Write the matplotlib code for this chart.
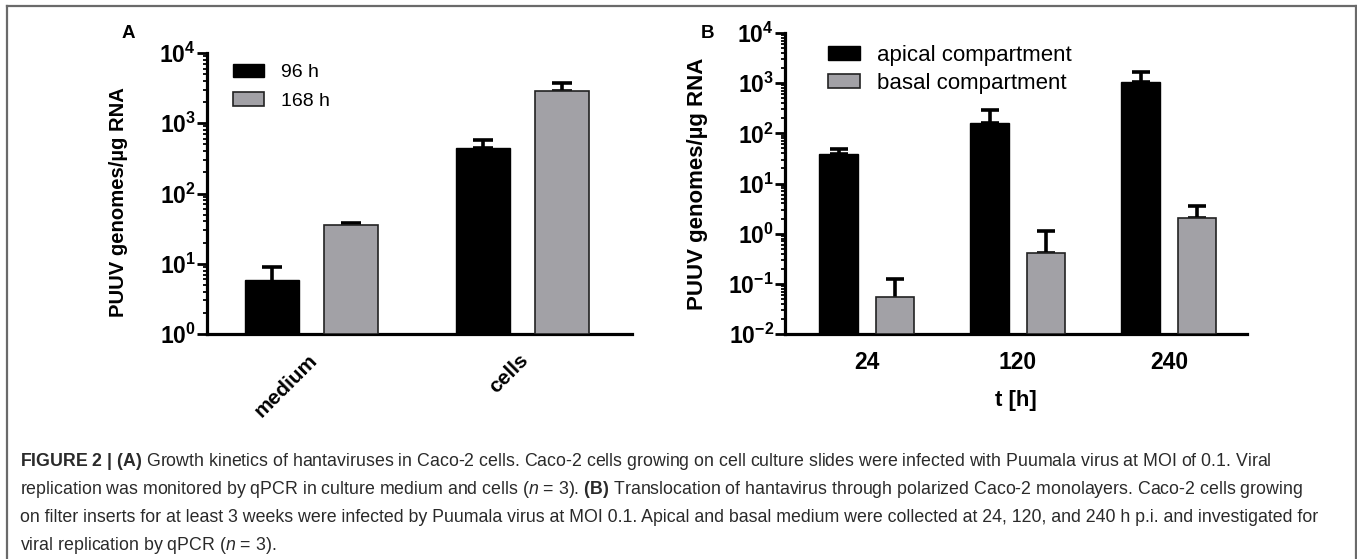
import matplotlib
matplotlib.use("Agg")
import matplotlib.pyplot as plt
import numpy as np
from matplotlib.lines import Line2D
from matplotlib.transforms import ScaledTranslation
from matplotlib.ticker import LogLocator, FuncFormatter, NullFormatter

plt.rcParams['font.family'] = ['Liberation Sans', 'DejaVu Sans']
plt.rcParams['mathtext.fontset'] = 'custom'
plt.rcParams['mathtext.rm'] = 'Liberation Sans'
plt.rcParams['mathtext.bf'] = 'Liberation Sans:bold'
plt.rcParams['mathtext.it'] = 'Liberation Sans:italic'

# ---------------- data ----------------
a_categories = ["medium", "cells"]
a_series = ["96 h", "168 h"]
a_96h = [4.8, 440]
a_96h_err_top = [9.0, 575]
a_168h = [34.5, 2860]
a_168h_err_top = [38, 3700]

b_categories = ["24", "120", "240"]
b_series = ["apical compartment", "basal compartment"]
b_apical = [38.7, 161, 1050]
b_apical_err_top = [48.6, 292, 1650]
b_basal = [0.0435, 0.41, 2.05]
b_basal_err_top = [0.125, 1.12, 3.55]

a_yticks = [1e0, 1e1, 1e2, 1e3, 1e4]
b_yticks = [1e-2, 1e-1, 1e0, 1e1, 1e2, 1e3, 1e4]

caption_lines = [
    r"$\mathbf{FIGURE\ 2\ |\ (A)}$ Growth kinetics of hantaviruses in Caco-2 cells. Caco-2 cells growing on cell culture slides were infected with Puumala virus at MOI of 0.1. Viral",
    r"replication was monitored by qPCR in culture medium and cells ($\mathit{n}$ = 3). $\mathbf{(B)}$ Translocation of hantavirus through polarized Caco-2 monolayers. Caco-2 cells growing",
    r"on filter inserts for at least 3 weeks were infected by Puumala virus at MOI 0.1. Apical and basal medium were collected at 24, 120, and 240 h p.i. and investigated for",
    r"viral replication by qPCR ($\mathit{n}$ = 3).",
]

BLACK = "#000000"
GRAY = "#a2a1a6"
W, H = 1357, 559
fig = plt.figure(figsize=(W / 100, H / 100), dpi=100)
fig.patch.set_facecolor("white")


def px_axes(x0, y0, x1, y1):
    return fig.add_axes([x0 / W, 1 - y1 / H, (x1 - x0) / W, (y1 - y0) / H])


def sci_fmt(v, pos):
    e = int(round(np.log10(v)))
    return r"$\mathbf{10^{%d}}$" % e


def style_axes(ax, tick_fs):
    for s in ["top", "right"]:
        ax.spines[s].set_visible(False)
    for s in ["left", "bottom"]:
        ax.spines[s].set_linewidth(2.3)
    ax.set_yscale("log")
    ax.yaxis.set_major_formatter(FuncFormatter(sci_fmt))
    ax.yaxis.set_minor_locator(LogLocator(base=10, subs=np.arange(2, 10)))
    ax.yaxis.set_minor_formatter(NullFormatter())
    ax.tick_params(axis="y", which="major", length=7, width=2, pad=1, labelsize=tick_fs)
    ax.tick_params(axis="y", which="minor", length=3, width=1.3)
    ax.tick_params(axis="x", which="both", length=0)


def grouped(ax, cats, s1, e1, s2, e2, names, off, bw, bottom, capsize):
    x = np.arange(len(cats))
    ax.bar(x - off, s1, bw, bottom=bottom, color=BLACK, edgecolor=BLACK, linewidth=1.0, label=names[0], zorder=3)
    ax.bar(x + off, s2, bw, bottom=bottom, color=GRAY, edgecolor="#222222", linewidth=1.2, label=names[1], zorder=3)
    for xs, v, e in [(x - off, s1, e1), (x + off, s2, e2)]:
        v = np.array(v)
        e = np.array(e)
        ax.errorbar(xs, v, yerr=[np.zeros_like(v), e - v], fmt="none", ecolor=BLACK,
                    elinewidth=2.6, capsize=capsize, capthick=2.6, zorder=2)
    return x


# ---------------- panel A ----------------
axA = px_axes(207, 53, 632, 334)
style_axes(axA, 16.5)
xA = grouped(axA, a_categories, a_96h, a_96h_err_top, a_168h, a_168h_err_top, a_series,
             0.188, 0.256, a_yticks[0], 7.5)
axA.set_xlim(-0.495, 1.519)
axA.set_ylim(a_yticks[0], a_yticks[-1])
axA.set_yticks(a_yticks)
axA.set_xticks(xA)
axA.set_xticklabels(a_categories, rotation=45, ha="right", va="top", rotation_mode="anchor",
                    fontsize=15, fontweight="bold")
axA.tick_params(axis="x", pad=12)
shift = ScaledTranslation(-4 / 100, 0, fig.dpi_scale_trans)
for lab in axA.get_xticklabels():
    lab.set_transform(lab.get_transform() + shift)
axA.set_ylabel("PUUV genomes/µg RNA", fontsize=14.6, fontweight="bold")
axA.yaxis.set_label_coords(-0.186, 0.47)
legA = axA.legend(loc="upper left", bbox_to_anchor=((233 - 207) / 425, 1 - (64 - 53) / 281),
                  frameon=False, fontsize=14, handlelength=1.6, handleheight=0.68,
                  handletextpad=0.85, labelspacing=0.55, borderpad=0, borderaxespad=0)
fig.text(128 / W, 1 - 33 / H, "A", fontsize=13.5, fontweight="bold", ha="center", va="center")

# ---------------- panel B ----------------
axB = px_axes(785, 33, 1247, 334)
style_axes(axB, 16.5)
xB = grouped(axB, b_categories, b_apical, b_apical_err_top, b_basal, b_basal_err_top, b_series,
             0.187, 0.255, b_yticks[0], 6.3)
axB.set_xlim(-0.543, 2.517)
axB.set_ylim(b_yticks[0], b_yticks[-1])
axB.set_yticks(b_yticks)
axB.set_xticks(xB)
axB.set_xticklabels(b_categories, fontsize=16.5, fontweight="bold")
axB.tick_params(axis="x", pad=12)
axB.set_xlabel("t [h]", fontsize=16, fontweight="bold", labelpad=12)
axB.set_ylabel("PUUV genomes/µg RNA", fontsize=16, fontweight="bold")
axB.yaxis.set_label_coords(-0.1667, 0.5)
legB = axB.legend(loc="upper left", bbox_to_anchor=((828 - 785) / 462, 1 - (45 - 33) / 301),
                  frameon=False, fontsize=16, handlelength=1.45, handleheight=0.6,
                  handletextpad=0.75, labelspacing=0.3, borderpad=0, borderaxespad=0)
fig.text(707 / W, 1 - 33 / H, "B", fontsize=13.5, fontweight="bold", ha="center", va="center")

# ---------------- caption ----------------
cap_y = [462, 489, 517, 545]
for line, yy in zip(caption_lines, cap_y):
    fig.text(20 / W, 1 - yy / H, line, fontsize=12.8, color="#2a2a2a", ha="left", va="center")

# ---------------- border ----------------
bc = "#6a6a6a"
fig.add_artist(Line2D([7 / W, 7 / W], [0, 1 - 6 / H], color=bc, lw=1.6, transform=fig.transFigure))
fig.add_artist(Line2D([7 / W, 1355.5 / W], [1 - 6 / H, 1 - 6 / H], color=bc, lw=1.6, transform=fig.transFigure))
fig.add_artist(Line2D([1355.5 / W, 1355.5 / W], [0, 1 - 6 / H], color=bc, lw=1.6, transform=fig.transFigure))

fig.savefig("out.png", dpi=100)
